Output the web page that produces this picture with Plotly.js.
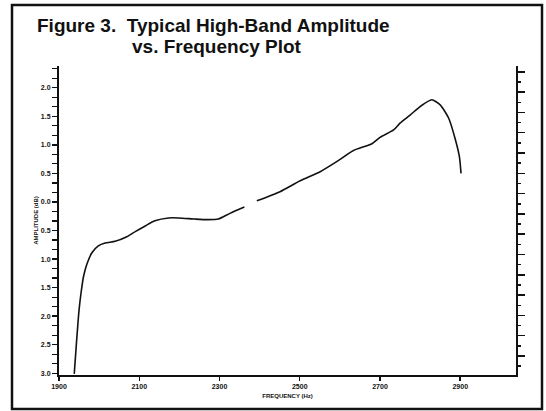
<!DOCTYPE html>
<html>
<head>
<meta charset="utf-8">
<script src="https://cdn.plot.ly/plotly-3.0.1.min.js"></script>
<style>html,body{margin:0;padding:0;background:#fff;}#chart{width:546px;height:411px;}</style>
</head>
<body>
<div id="chart"></div>
<script>
// Data
var freqHz = [1938, 1944, 1950, 1955, 1961, 1969, 1982, 1998, 2015, 2040, 2069, 2090, 2115, 2139, 2173, 2198, 2239, 2270, 2297, 2326, 2362, 2377, 2393, 2451, 2501, 2551, 2593, 2634, 2680, 2700, 2734, 2750, 2775, 2800, 2829, 2850, 2871, 2888, 2898, 2902];
var amplitudeDb = [-3.01, -2.42, -1.89, -1.59, -1.31, -1.10, -0.89, -0.77, -0.72, -0.69, -0.61, -0.52, -0.42, -0.33, -0.28, -0.28, -0.30, -0.31, -0.30, -0.20, -0.09, null, 0.02, 0.18, 0.37, 0.53, 0.71, 0.90, 1.02, 1.13, 1.26, 1.38, 1.52, 1.67, 1.79, 1.70, 1.47, 1.09, 0.79, 0.50];

var xTickVals = [1900, 2100, 2300, 2500, 2700, 2900];
var xTickText = ['1900', '2100', '2300', '2500', '2700', '2900'];
var yTickVals = [-3.0, -2.5, -2.0, -1.5, -1.0, -0.5, 0.0, 0.5, 1.0, 1.5, 2.0];
var yTickText = ['3.0', '2.5', '2.0', '1.5', '1.0', '0.5', '0.0', '0.5', '1.0', '1.5', '2.0'];

var titleLine1 = 'Figure 3.\u00a0 Typical High-Band Amplitude';
var titleLine2 = 'vs. Frequency Plot';
var xTitle = 'FREQUENCY (Hz)';
var yTitle = 'AMPLITUDE (dB)';

// layout geometry helpers (pixels -> paper)
var L = 59, R = 30, T = 66, B = 36, W = 546, H = 411;
var PW = W - L - R, PH = H - T - B;
function px(x) { return (x - L) / PW; }
function py(y) { return (H - B - y) / PH; }

var ink = '#111111';
var tickFont = {family: 'Liberation Sans, Arial, sans-serif', size: 7, color: ink, weight: 'bold'};

var traces = [{
  x: freqHz,
  y: amplitudeDb,
  type: 'scatter',
  mode: 'lines',
  connectgaps: false,
  line: {color: ink, width: 1.6, shape: 'spline', smoothing: 0.6},
  hoverinfo: 'skip',
  showlegend: false
}, {
  x: [1900], y: [0], yaxis: 'y2', type: 'scatter', mode: 'markers',
  marker: {opacity: 0}, showlegend: false, hoverinfo: 'skip'
}];

var titleFont = {family: 'Liberation Sans, Arial, Helvetica, sans-serif', size: 19, color: ink, weight: 'bold'};

var layout = {
  width: W, height: H,
  margin: {l: L, r: R, t: T, b: B, pad: 0},
  paper_bgcolor: '#ffffff',
  plot_bgcolor: '#ffffff',
  showlegend: false,
  xaxis: {
    range: [1900, 3039],
    tickvals: xTickVals, ticktext: xTickText,
    ticks: 'outside', ticklen: 4, tickwidth: 1.5, tickcolor: ink,
    showline: true, linewidth: 2, linecolor: ink,
    showgrid: false, zeroline: false,
    tickfont: tickFont,
    title: {text: xTitle, font: {family: 'Liberation Sans, Arial, sans-serif', size: 6, color: ink, weight: 'bold'}, standoff: 4}
  },
  yaxis: {
    range: [-3.03, 2.38],
    tickvals: yTickVals, ticktext: yTickText,
    ticks: 'outside', ticklen: 5, tickwidth: 1.5, tickcolor: ink,
    minor: {dtick: 1/6, tick0: 0, ticks: 'outside', ticklen: 5, tickwidth: 1.2, tickcolor: ink, showgrid: false},
    showline: true, linewidth: 2, linecolor: ink,
    showgrid: false, zeroline: false,
    tickfont: tickFont,
    title: {text: yTitle, font: {family: 'Liberation Sans, Arial, sans-serif', size: 6, color: ink, weight: 'bold'}, standoff: 2}
  },
  yaxis2: {
    overlaying: 'y', side: 'right',
    range: [0, 309],
    tick0: 19, dtick: 20.3,
    ticks: 'outside', ticklen: 7, tickwidth: 1.5, tickcolor: ink,
    minor: {dtick: 10.15, tick0: 19, ticks: 'outside', ticklen: 3, tickwidth: 1.5, tickcolor: ink, showgrid: false},
    showline: true, linewidth: 1.5, linecolor: ink,
    showgrid: false, zeroline: false, showticklabels: false
  },
  shapes: [
    {type: 'rect', xref: 'paper', yref: 'paper', x0: px(12), x1: px(542), y0: py(409), y1: py(5),
     line: {color: ink, width: 2.5}, fillcolor: 'rgba(0,0,0,0)'}
  ],
  annotations: [
    {xref: 'paper', yref: 'paper', x: px(35), y: py(26), xanchor: 'left', yanchor: 'middle',
     text: titleLine1, showarrow: false, font: titleFont},
    {xref: 'paper', yref: 'paper', x: px(130), y: py(46), xanchor: 'left', yanchor: 'middle',
     text: titleLine2, showarrow: false, font: titleFont}
  ]
};

Plotly.newPlot('chart', traces, layout, {staticPlot: true, displayModeBar: false});
</script>
</body>
</html>
